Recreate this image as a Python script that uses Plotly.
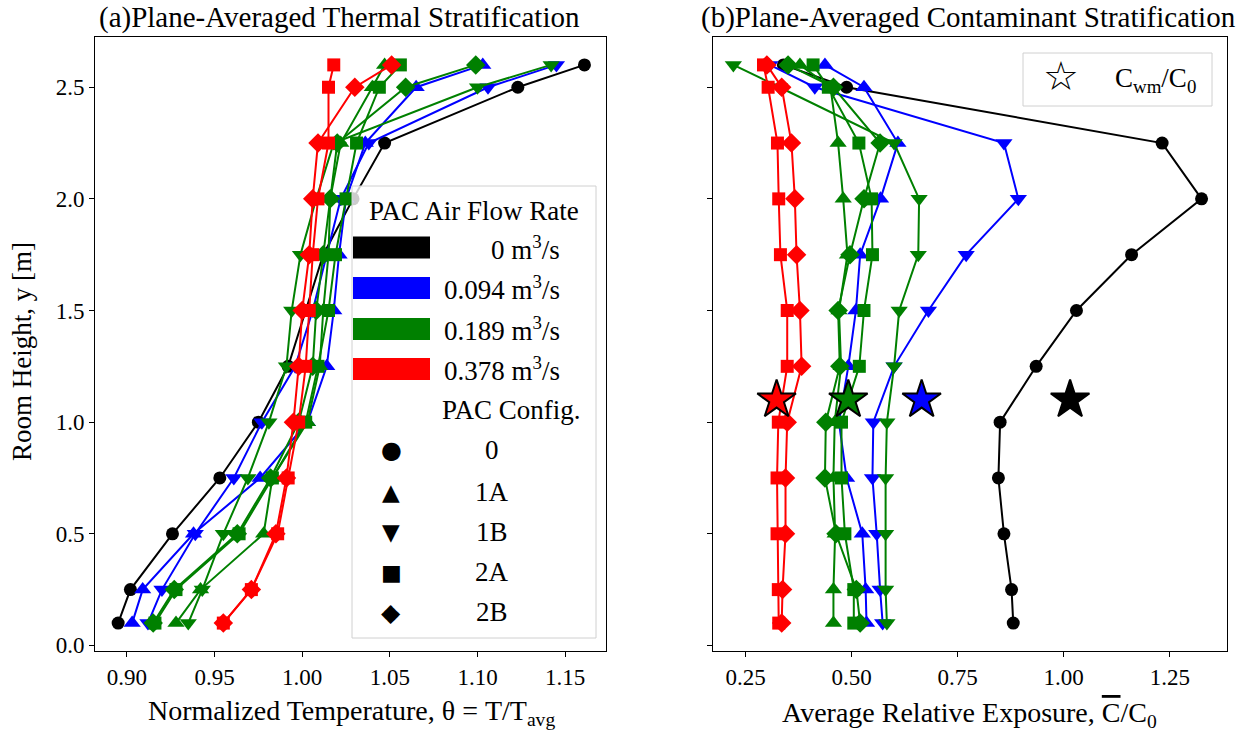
import plotly.graph_objects as go

# ---------------- data ----------------
heights = [0.1, 0.25, 0.5, 0.75, 1.0, 1.25, 1.5, 1.75, 2.0, 2.25, 2.5, 2.6]

# (a) normalized temperature theta = T/T_avg
theta_0 = [0.895, 0.902, 0.926, 0.953, 0.975, 0.992, 1.002, 1.012, 1.029, 1.047, 1.123, 1.161]
theta_094_1A = [0.903, 0.909, 0.938, 0.976, 1.003, 1.014, 1.018, 1.021, 1.025, 1.036, 1.065, 1.103]
theta_094_1B = [0.912, 0.920, 0.939, 0.961, 0.977, 0.996, 1.006, 1.014, 1.022, 1.038, 1.106, 1.145]
theta_189_1A = [0.928, 0.942, 0.978, 0.983, 1.003, 1.010, 1.012, 1.015, 1.016, 1.022, 1.040, 1.047]
theta_189_1B = [0.935, 0.943, 0.955, 0.969, 0.981, 0.991, 0.994, 0.999, 1.008, 1.018, 1.100, 1.142]
theta_189_2A = [0.916, 0.928, 0.964, 0.983, 1.002, 1.009, 1.015, 1.019, 1.025, 1.031, 1.044, 1.056]
theta_189_2B = [0.915, 0.927, 0.963, 0.982, 0.998, 1.006, 1.008, 1.012, 1.016, 1.020, 1.059, 1.099]
theta_378_2A = [0.955, 0.971, 0.986, 0.992, 0.998, 1.002, 1.004, 1.006, 1.009, 1.015, 1.015, 1.018]
theta_378_2B = [0.955, 0.971, 0.985, 0.991, 0.995, 0.998, 1.000, 1.004, 1.006, 1.009, 1.030, 1.051]

# (b) average relative exposure C/C0
c_0 = [0.881, 0.877, 0.859, 0.846, 0.850, 0.935, 1.030, 1.160, 1.325, 1.232, 0.488, 0.339]
c_094_1A = [0.535, 0.533, 0.525, 0.488, 0.470, 0.492, 0.510, 0.520, 0.568, 0.609, 0.529, 0.437]
c_094_1B = [0.573, 0.567, 0.559, 0.549, 0.551, 0.600, 0.681, 0.770, 0.893, 0.859, 0.413, 0.307]
c_189_1A = [0.457, 0.457, 0.461, 0.457, 0.460, 0.475, 0.470, 0.490, 0.480, 0.468, 0.450, 0.378]
c_189_1B = [0.583, 0.580, 0.580, 0.580, 0.583, 0.600, 0.612, 0.657, 0.659, 0.600, 0.330, 0.221]
c_189_2A = [0.505, 0.505, 0.484, 0.476, 0.476, 0.518, 0.529, 0.549, 0.547, 0.517, 0.445, 0.409]
c_189_2B = [0.520, 0.511, 0.463, 0.437, 0.439, 0.472, 0.468, 0.496, 0.529, 0.567, 0.457, 0.350]
c_378_2A = [0.328, 0.327, 0.324, 0.324, 0.327, 0.348, 0.348, 0.332, 0.328, 0.325, 0.303, 0.292]
c_378_2B = [0.335, 0.337, 0.344, 0.344, 0.348, 0.382, 0.378, 0.370, 0.366, 0.358, 0.335, 0.300]

# well-mixed exposure C_wm/C0 (stars) at y = 1.1 m
star_height = 1.1
star_values = [1.015, 0.665, 0.492, 0.323]
star_colors = ["black", "blue", "green", "red"]

flow_labels = ["0 m<sup>3</sup>/s", "0.094 m<sup>3</sup>/s", "0.189 m<sup>3</sup>/s", "0.378 m<sup>3</sup>/s"]
config_labels = ["0", "1A", "1B", "2A", "2B"]

x_ticks_a = [0.90, 0.95, 1.00, 1.05, 1.10, 1.15]
x_ticks_b = [0.25, 0.50, 0.75, 1.00, 1.25]
y_ticks = [0.0, 0.5, 1.0, 1.5, 2.0, 2.5]

series = [
    ("black", "circle", theta_0, c_0),
    ("blue", "triangle-up", theta_094_1A, c_094_1A),
    ("blue", "triangle-down", theta_094_1B, c_094_1B),
    ("green", "triangle-up", theta_189_1A, c_189_1A),
    ("green", "triangle-down", theta_189_1B, c_189_1B),
    ("green", "square", theta_189_2A, c_189_2A),
    ("green", "diamond", theta_189_2B, c_189_2B),
    ("red", "square", theta_378_2A, c_378_2A),
    ("red", "diamond", theta_378_2B, c_378_2B),
]

# ---------------- figure ----------------
W, H = 1248, 731
TOP, BOT = 37, 651  # plot area in px


def px(x):
    return x / W


def py(y):
    return (BOT - y) / (BOT - TOP)


FONT = "Liberation Serif, Times New Roman, serif"
fig = go.Figure()

for color, sym, th, cc in series:
    msize = 13 if sym in ("circle", "square") else 15
    for xs, xa, ya in ((th, "x", "y"), (cc, "x2", "y2")):
        fig.add_trace(go.Scatter(x=xs, y=heights, mode="lines+markers",
                                 line=dict(color=color, width=2),
                                 marker=dict(symbol=sym, size=msize, color=color),
                                 xaxis=xa, yaxis=ya, showlegend=False))

fig.add_trace(go.Scatter(x=star_values, y=[star_height] * len(star_values), mode="markers",
                         marker=dict(symbol="star", size=29, color=star_colors,
                                     line=dict(color="black", width=2)),
                         xaxis="x2", yaxis="y2", showlegend=False))

axis_common = dict(showline=True, linecolor="black", linewidth=1, mirror=True,
                   ticks="outside", ticklen=5, tickcolor="black", showgrid=False,
                   zeroline=False, tickfont=dict(family=FONT, size=23, color="black"))

fig.update_layout(
    width=W, height=H,
    margin=dict(l=0, r=0, t=TOP, b=H - BOT),
    paper_bgcolor="white", plot_bgcolor="white",
    xaxis=dict(domain=[px(95), px(606)], range=[0.8818, 1.1733], tickvals=x_ticks_a,
               tickformat=".2f", anchor="y", **axis_common),
    yaxis=dict(domain=[0, 1], range=[-0.025, 2.725], tickvals=y_ticks, tickformat=".1f",
               anchor="x", **axis_common),
    xaxis2=dict(domain=[px(713), px(1227)], range=[0.173, 1.385], tickvals=x_ticks_b,
                tickformat=".2f", anchor="y2", **axis_common),
    yaxis2=dict(domain=[0, 1], range=[-0.025, 2.725], tickvals=y_ticks, showticklabels=False,
                anchor="x2", **axis_common),
    showlegend=False,
)

ann = []
shapes = []
TXT = 27

# titles
ann.append(dict(x=px(339), y=py(18), text="(a)Plane-Averaged Thermal Stratification",
                font=dict(family=FONT, size=29, color="black")))
ann.append(dict(x=px(968), y=py(18), text="(b)Plane-Averaged Contaminant Stratification",
                font=dict(family=FONT, size=29, color="black")))
# axis labels
ann.append(dict(x=px(351), y=py(712), text="Normalized Temperature, θ = T/T<sub>avg</sub>",
                font=dict(family=FONT, size=28, color="black")))
ann.append(dict(x=px(969), y=py(714),
                text="Average Relative Exposure, <span style='text-decoration:overline'>C</span>/C<sub>0</sub>",
                font=dict(family=FONT, size=28, color="black")))
ann.append(dict(x=px(22), y=py(352), text="Room Height, y [m]", textangle=-90,
                font=dict(family=FONT, size=TXT, color="black")))

# ---- legend (a) ----
shapes.append(dict(type="rect", xref="paper", yref="paper", layer="above",
                   x0=px(352), x1=px(596), y0=py(638), y1=py(186),
                   fillcolor="rgba(255,255,255,0.8)", line=dict(color="#d0d0d0", width=1)))
ann.append(dict(x=px(474), y=py(211), text="PAC Air Flow Rate",
                font=dict(family=FONT, size=TXT, color="black")))
patch_y = [247.5, 288, 329, 369]
for col, lab, yc in zip(["black", "blue", "green", "red"], flow_labels, patch_y):
    shapes.append(dict(type="rect", xref="paper", yref="paper", layer="above",
                       x0=px(353), x1=px(430), y0=py(yc + 11), y1=py(yc - 11),
                       fillcolor=col, line=dict(width=0)))
    ann.append(dict(x=px(562), y=py(yc), text=lab, xanchor="right",
                    font=dict(family=FONT, size=TXT, color="black")))
ann.append(dict(x=px(511), y=py(410), text="PAC Config.",
                font=dict(family=FONT, size=TXT, color="black")))
glyphs = ["●", "▲", "▼", "■", "◆"]
glyph_size = [24, 23, 23, 22, 25]
row_y = [450, 492, 532, 572, 612]
for g, gs, lab, yc in zip(glyphs, glyph_size, config_labels, row_y):
    ann.append(dict(x=px(391), y=py(yc), text=g,
                    font=dict(family="DejaVu Sans", size=gs, color="black")))
    ann.append(dict(x=px(492), y=py(yc), text=lab,
                    font=dict(family=FONT, size=TXT, color="black")))

# ---- legend (b) ----
shapes.append(dict(type="rect", xref="paper", yref="paper", layer="above",
                   x0=px(1023), x1=px(1212), y0=py(106), y1=py(53),
                   fillcolor="rgba(255,255,255,0.8)", line=dict(color="#d0d0d0", width=1)))
ann.append(dict(x=px(1061), y=py(76), text="☆",
                font=dict(family="DejaVu Sans", size=40, color="black")))
ann.append(dict(x=px(1155), y=py(80), text="C<sub>wm</sub>/C<sub>0</sub>",
                font=dict(family=FONT, size=TXT, color="black")))

for a in ann:
    a.setdefault("xref", "paper")
    a.setdefault("yref", "paper")
    a.setdefault("showarrow", False)
    a.setdefault("xanchor", "center")
    a.setdefault("yanchor", "middle")

fig.update_layout(annotations=ann, shapes=shapes)
fig.write_html("out.html")
